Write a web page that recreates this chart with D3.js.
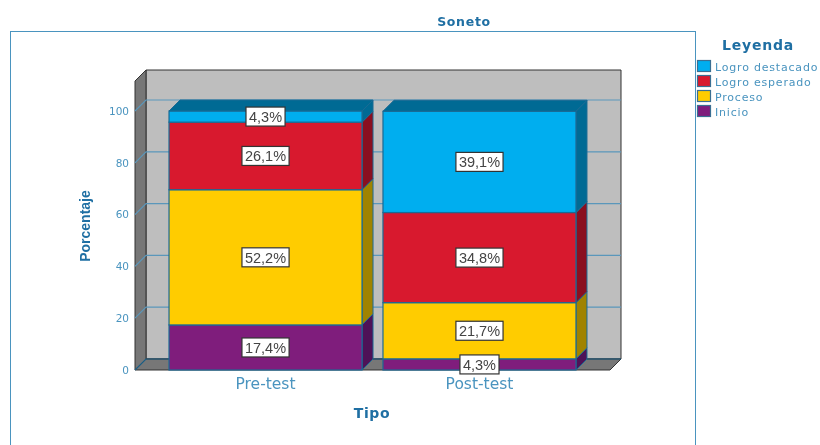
<!DOCTYPE html>
<html>
<head>
<meta charset="utf-8">
<script src="https://d3js.org/d3.v7.min.js"></script>
<style>
body { margin: 0; background: #fff; overflow: hidden; }
svg { display: block; filter: blur(0.35px); }
text { font-family: "DejaVu Sans", sans-serif; }
</style>
</head>
<body>
<div id="chart"></div>
<script>
// values
var categories = ["Pre-test", "Post-test"];
var levels = ["Inicio", "Proceso", "Logro esperado", "Logro destacado"];
var inicio = [17.4, 4.3];
var proceso = [52.2, 21.7];
var esperado = [26.1, 34.8];
var destacado = [4.3, 39.1];
var yTicks = [0, 20, 40, 60, 80, 100];
var legendOrder = ["Logro destacado", "Logro esperado", "Proceso", "Inicio"];

var rows = categories.map(function(c, i) {
  return { cat: c, "Inicio": inicio[i], "Proceso": proceso[i], "Logro esperado": esperado[i], "Logro destacado": destacado[i] };
});

var front = { Inicio: "#7f1d7c", Proceso: "#ffcc00", "Logro esperado": "#d8192e", "Logro destacado": "#00aeef" };
var side = { Inicio: "#4e1257", Proceso: "#a08300", "Logro esperado": "#8a0f20", "Logro destacado": "#006a94" };
var blue = "#1f6fa3", lightBlue = "#4a94bf", edge = "#1b6a94";

var svg = d3.select("#chart").append("svg").attr("width", 820).attr("height", 445);

var depth = 11, left = 135, right = 610, bottom = 370, top100 = 111, wallTop = 81;

var x = d3.scaleBand().domain(categories).range([left, right]).paddingInner(0.098).paddingOuter(0.159);
var y = d3.scaleLinear().domain([0, 100]).range([bottom, top100]);

// title and outer frame
svg.append("text").attr("x", 464).attr("y", 26).attr("text-anchor", "middle")
  .style("font-size", "12.5px").style("font-weight", "bold").style("letter-spacing", "0.7px").style("fill", blue).text("Soneto");
svg.append("rect").attr("x", 10.5).attr("y", 31.5).attr("width", 685).attr("height", 430)
  .attr("fill", "#fff").attr("stroke", lightBlue);

function poly(pts) { return pts.map(function(p) { return p.join(","); }).join(" "); }

// 3d box: back wall, left wall, floor
svg.append("polygon")
  .attr("points", poly([[left + depth, wallTop - depth], [right + depth, wallTop - depth], [right + depth, bottom - depth], [left + depth, bottom - depth]]))
  .attr("fill", "#bebebe").attr("stroke", "#333");
svg.append("polygon")
  .attr("points", poly([[left, wallTop], [left + depth, wallTop - depth], [left + depth, bottom - depth], [left, bottom]]))
  .attr("fill", "#777").attr("stroke", "#333");
svg.append("polygon")
  .attr("points", poly([[left, bottom], [left + depth, bottom - depth], [right + depth, bottom - depth], [right, bottom]]))
  .attr("fill", "#777").attr("stroke", "#333");

// gridlines go along the left wall then across the back
var grid = svg.append("g");
yTicks.forEach(function(t) {
  grid.append("polyline")
    .attr("points", poly([[left, y(t)], [left + depth, y(t) - depth], [right + depth, y(t) - depth]]))
    .attr("fill", "none").attr("stroke", t === 0 ? "#1b5f86" : "#5a97bb").attr("stroke-width", 1.2);
});

// stacked bars
var stacked = d3.stack().keys(levels)(rows);
var bars = svg.append("g");
stacked.forEach(function(layer) {
  layer.forEach(function(d) {
    var x0 = x(d.data.cat), x1 = x0 + x.bandwidth();
    var y0 = y(d[0]), y1 = y(d[1]);
    bars.append("polygon")
      .attr("points", poly([[x1, y0], [x1 + depth, y0 - depth], [x1 + depth, y1 - depth], [x1, y1]]))
      .attr("fill", side[layer.key]).attr("stroke", edge);
    bars.append("rect")
      .attr("x", x0).attr("y", y1).attr("width", x1 - x0).attr("height", y0 - y1)
      .attr("fill", front[layer.key]).attr("stroke", edge).attr("stroke-width", 1.2);
  });
});
// top cap of each column
rows.forEach(function(r) {
  var x0 = x(r.cat), x1 = x0 + x.bandwidth();
  var total = d3.sum(levels, function(k) { return r[k]; });
  var yt = y(total);
  bars.append("polygon")
    .attr("points", poly([[x0, yt], [x0 + depth, yt - depth], [x1 + depth, yt - depth], [x1, yt]]))
    .attr("fill", "#006a94").attr("stroke", edge);
});

// value labels
var labels = svg.append("g");
stacked.forEach(function(layer) {
  layer.forEach(function(d) {
    var cx = x(d.data.cat) + x.bandwidth() / 2;
    var cy = y((d[0] + d[1]) / 2);
    var g = labels.append("g");
    var t = g.append("text").attr("x", cx).attr("y", cy).attr("dy", "0.36em").attr("text-anchor", "middle")
      .style("font-family", "'Liberation Sans', sans-serif").style("font-size", "14.5px").style("fill", "#444")
      .text(d3.format(".1f")(d.data[layer.key]).replace(".", ",") + "%");
    var w = t.node().getComputedTextLength();
    g.insert("rect", "text").attr("x", cx - w / 2 - 3).attr("y", cy - 9.5).attr("width", w + 6).attr("height", 19)
      .attr("fill", "#fff").attr("stroke", "#333").attr("stroke-width", 1.2);
  });
});

// axes
var yAxis = svg.append("g").attr("transform", "translate(" + left + ",0)")
  .call(d3.axisLeft(y).tickValues(yTicks).tickSize(0).tickPadding(6));
yAxis.select(".domain").remove();
yAxis.selectAll("text").style("font-size", "10.5px").style("fill", lightBlue);

var xAxis = svg.append("g").attr("transform", "translate(0," + bottom + ")")
  .call(d3.axisBottom(x).tickSize(0).tickPadding(8));
xAxis.select(".domain").remove();
xAxis.selectAll("text").style("font-size", "15.5px").style("fill", lightBlue);

svg.append("text").attr("x", 372).attr("y", 418).attr("text-anchor", "middle")
  .style("font-size", "14px").style("font-weight", "bold").style("letter-spacing", "0.6px").style("fill", blue).text("Tipo");
svg.append("text").attr("transform", "translate(90,226) rotate(-90)").attr("text-anchor", "middle")
  .style("font-family", "'Liberation Sans', sans-serif").style("font-size", "14px").style("font-weight", "bold").style("fill", blue).text("Porcentaje");

// legend
svg.append("text").attr("x", 758).attr("y", 50).attr("text-anchor", "middle")
  .style("font-size", "14px").style("font-weight", "bold").style("letter-spacing", "0.8px").style("fill", blue).text("Leyenda");
var legend = svg.append("g").selectAll("g").data(legendOrder).enter().append("g")
  .attr("transform", function(d, i) { return "translate(697.5," + (60.5 + i * 15) + ")"; });
legend.append("rect").attr("width", 13).attr("height", 11)
  .attr("fill", function(d) { return front[d]; }).attr("stroke", "#3a6f93").attr("stroke-width", 1.2);
legend.append("text").attr("x", 17.5).attr("y", 10)
  .style("font-size", "11px").style("letter-spacing", "0.8px").style("fill", lightBlue).text(function(d) { return d; });
</script>
</body>
</html>
